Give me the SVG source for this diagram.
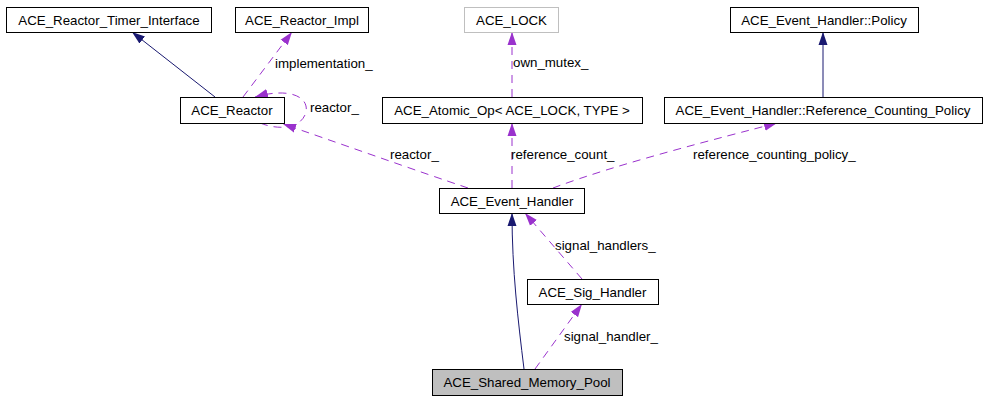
<svg xmlns="http://www.w3.org/2000/svg" width="987" height="400" viewBox="0 0 987 400">
<style>
text{font-family:"Liberation Sans",Arial,sans-serif;font-size:13.3px;fill:#000}
.box{fill:#fff;stroke:#000;stroke-width:1}
.nt{text-anchor:middle}
.inh{fill:none;stroke:#191970;stroke-width:1}
.use{fill:none;stroke:#9a32cd;stroke-width:1;stroke-dasharray:8,6}
</style>
<defs>
<marker id="an" viewBox="0 0 13 10" refX="13" refY="5" markerWidth="13" markerHeight="10" markerUnits="userSpaceOnUse" orient="auto"><path d="M0,0.5 L13,5 L0,9.5 z" fill="#191970"/></marker>
<marker id="ap" viewBox="0 0 13 10" refX="13" refY="5" markerWidth="13" markerHeight="10" markerUnits="userSpaceOnUse" orient="auto"><path d="M0,0.5 L13,5 L0,9.5 z" fill="#9a32cd"/></marker>
</defs>
<rect width="987" height="400" fill="#fff"/>
<g id="connectors">
<path class="inh" d="M215,97 L132,32" marker-end="url(#an)"/>
<path class="use" d="M243,97 L292,32" marker-end="url(#ap)"/>
<path class="use" d="M260,123 C280,131 302,128 306,112 C309,97 290,87 255,97" marker-end="url(#ap)"/>
<path class="use" d="M468,188 C420,172 330,140 283,124" marker-end="url(#ap)"/>
<path class="use" d="M512,188 L512,123" marker-end="url(#ap)"/>
<path class="use" d="M512,97 L512,32" marker-end="url(#ap)"/>
<path class="use" d="M553,188 C620,163 720,138 777,123" marker-end="url(#ap)"/>
<path class="inh" d="M823,97 L823,32" marker-end="url(#an)"/>
<path class="inh" d="M524,369 C518,320 512,270 512,213" marker-end="url(#an)"/>
<path class="use" d="M582,279 L525,213" marker-end="url(#ap)"/>
<path class="use" d="M535,369 L582,304" marker-end="url(#ap)"/>
<text x="275" y="68">implementation_</text>
<text x="310" y="111.5">reactor_</text>
<text x="513" y="67">own_mutex_</text>
<text x="390" y="158.5">reactor_</text>
<text x="511" y="158.5">reference_count_</text>
<text x="693" y="158.5">reference_counting_policy_</text>
<text x="555" y="249.5">signal_handlers_</text>
<text x="564" y="341">signal_handler_</text>
</g>
<g id="timer"><rect class="box" x="6.5" y="7.5" width="205" height="25"/><text class="nt" x="109" y="24.5">ACE_Reactor_Timer_Interface</text></g>
<g id="impl"><rect class="box" x="235.5" y="7.5" width="133" height="25"/><text class="nt" x="302" y="24.5">ACE_Reactor_Impl</text></g>
<g id="reactor"><rect class="box" x="180.5" y="97.5" width="104" height="26"/><text class="nt" x="232" y="114.5">ACE_Reactor</text></g>
<g id="lock"><rect class="box" style="stroke:#bfbfbf" x="464.5" y="7.5" width="94" height="25"/><text class="nt" x="511.5" y="24.5">ACE_LOCK</text></g>
<g id="policy"><rect class="box" x="730.5" y="7.5" width="188" height="25"/><text class="nt" x="824" y="24.5">ACE_Event_Handler::Policy</text></g>
<g id="atomic"><rect class="box" x="382.5" y="97.5" width="260" height="26"/><text class="nt" x="512" y="114.5">ACE_Atomic_Op&lt; ACE_LOCK, TYPE &gt;</text></g>
<g id="rcp"><rect class="box" x="664.5" y="97.5" width="318" height="26"/><text class="nt" x="823" y="114.5">ACE_Event_Handler::Reference_Counting_Policy</text></g>
<g id="eh"><rect class="box" x="439.5" y="188.5" width="145" height="25"/><text class="nt" x="512" y="205.5">ACE_Event_Handler</text></g>
<g id="sig"><rect class="box" x="527.5" y="279.5" width="131" height="25"/><text class="nt" x="592.5" y="296.5">ACE_Sig_Handler</text></g>
<g id="pool"><rect class="box" style="fill:#bfbfbf" x="432.5" y="369.5" width="190" height="26"/><text class="nt" x="527" y="386.5">ACE_Shared_Memory_Pool</text></g>
</svg>
